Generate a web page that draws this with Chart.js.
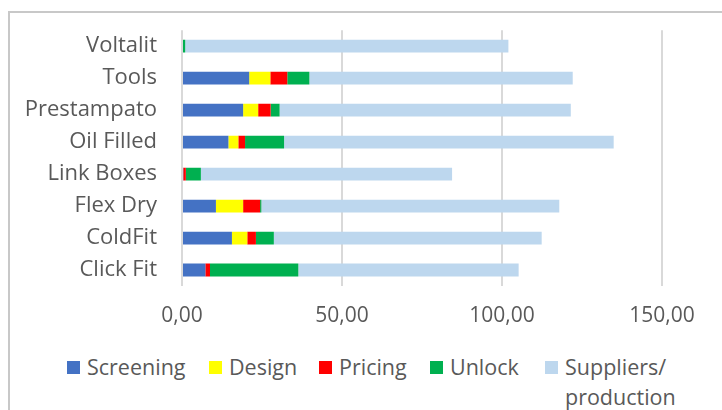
<!DOCTYPE html>
<html lang="en">
<head>
    <meta charset="UTF-8">
    <title>Stacked bars</title>
    <script src="https://cdn.jsdelivr.net/npm/chart.js"></script>
    <style>
        body { margin:0; background:#fff; font-family:'Open Sans', Arial, sans-serif; }
        .frame { position:absolute; left:8px; top:11px; width:800px; height:500px; border-left:2px solid #c8c8c8; border-top:2px solid #c8c8c8; }
        #chart { position:absolute; left:0; top:0; }
        .legend { position:absolute; left:0; top:352px; width:722px; font-size:21.5px; line-height:30px; color:#595959; }
        .legend .item { position:absolute; top:0; display:flex; align-items:flex-start; }
        .legend .box { width:13px; height:13px; margin:9px 7px 0 0; flex:none; }
        .legend .txt { max-width:125px; }
    </style>
</head>
<body>
    <div class="frame"></div>
    <canvas id="chart" width="722" height="345"></canvas>
    <div class="legend" id="legend"></div>
    <script>
    // rows top to bottom
    const categories = ['Voltalit', 'Tools', 'Prestampato', 'Oil Filled', 'Link Boxes', 'Flex Dry', 'ColdFit', 'Click Fit'];
    const seriesNames = ['Screening', 'Design', 'Pricing', 'Unlock', 'Suppliers/ production'];
    const seriesColors = ['#4472c4', '#ffff00', '#ff0000', '#00b050', '#bdd7ee'];

    const screening = [0, 21.0, 19.1, 14.5, 0.4, 10.6, 15.6, 7.3];
    const design    = [0, 6.6, 4.7, 3.1, 0, 8.5, 4.8, 0];
    const pricing   = [0, 5.3, 3.9, 2.1, 0.8, 5.3, 2.7, 1.45];
    const unlock    = [1.0, 6.9, 2.8, 12.2, 4.7, 0.4, 5.6, 27.6];
    const suppliers = [101.0, 82.3, 91.0, 103.0, 78.5, 93.1, 83.7, 68.85];

    const xTicks = [0, 50, 100, 150];

    // legend item left edges (px)
    const legendLeft = [67, 209, 319, 430, 545];

    const series = [screening, design, pricing, unlock, suppliers];
    const txt = '#595959';
    const fam = "'Open Sans', Arial, sans-serif";

    new Chart(document.getElementById('chart').getContext('2d'), {
        type: 'bar',
        data: {
            labels: categories,
            datasets: series.map((d, i) => ({
                label: seriesNames[i],
                data: d,
                backgroundColor: seriesColors[i],
                borderWidth: 0,
                barPercentage: 1,
                categoryPercentage: 0.4
            }))
        },
        options: {
            indexAxis: 'y',
            responsive: false,
            animation: false,
            layout: { padding: { top: 23, right: 60, left: 0, bottom: 0 } },
            plugins: { legend: { display: false }, tooltip: { enabled: false } },
            scales: {
                x: {
                    stacked: true,
                    min: xTicks[0], max: xTicks[xTicks.length - 1],
                    afterBuildTicks: s => { s.ticks = xTicks.map(v => ({ value: v })); },
                    afterFit: s => { s.height = 59; },
                    grid: { color: '#d9d9d9', lineWidth: 2, drawTicks: false },
                    border: { display: false },
                    ticks: {
                        color: txt, font: { family: fam, size: 21 }, padding: 17,
                        callback: v => v.toFixed(2).replace('.', ',')
                    }
                },
                y: {
                    stacked: true,
                    afterFit: s => { s.width = 182; },
                    grid: { display: false },
                    border: { display: false },
                    ticks: { color: txt, font: { family: fam, size: 22 }, padding: 17 }
                }
            }
        }
    });

    // legend built from the same series arrays
    document.getElementById('legend').innerHTML = seriesNames.map((n, i) =>
        `<div class="item" style="left:${legendLeft[i]}px"><span class="box" style="background:${seriesColors[i]}"></span><span class="txt">${n}</span></div>`
    ).join('');
    </script>
</body>
</html>
